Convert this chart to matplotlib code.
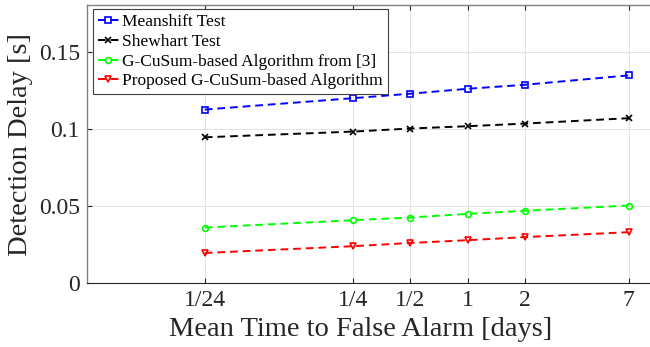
import matplotlib
matplotlib.use('Agg')
import matplotlib.pyplot as plt
from matplotlib.ticker import FixedLocator, NullLocator
import numpy as np

# mean time to false alarm, in days
mtfa_days = [1 / 24, 1 / 4, 1 / 2, 1, 2, 7]
mtfa_labels = ['1/24', '1/4', '1/2', '1', '2', '7']

# detection delay [s] for each detector
delay_meanshift = [0.1124, 0.1198, 0.1227, 0.1259, 0.1285, 0.1346]
delay_shewhart = [0.0944, 0.0981, 0.1001, 0.1016, 0.1033, 0.1068]
delay_gcusum_ref = [0.0358, 0.0406, 0.0423, 0.0447, 0.0467, 0.0501]
delay_gcusum_new = [0.0193, 0.0237, 0.0258, 0.0276, 0.0296, 0.0328]

y_ticks = [0, 0.05, 0.1, 0.15]
y_tick_labels = ['0', '0.05', '0.1', '0.15']

plt.rcParams['font.family'] = 'Liberation Serif'
plt.rcParams['mathtext.fontset'] = 'stix'

fig = plt.figure(figsize=(6.5, 3.47), dpi=100)
ax = fig.add_axes([0.1334, 0.1853, 0.879, 0.799])

series = [
    (delay_meanshift, 'b', 's', 'Meanshift Test'),
    (delay_shewhart, 'k', 'x', 'Shewhart Test'),
    (delay_gcusum_ref, (0, 1, 0), 'o', 'G-CuSum-based Algorithm from [3]'),
    (delay_gcusum_new, 'r', 'v', 'Proposed G-CuSum-based Algorithm'),
]
for vals, col, mk, lab in series:
    ax.plot(mtfa_days, vals, color=col, linestyle='--', dashes=(4, 2.5),
            linewidth=1.4, marker=mk, markersize=4.2, markeredgewidth=1.2,
            markerfacecolor='none', markeredgecolor=col, label=lab)

ax.set_xscale('log')
ax.set_xlim(0.01, 10)
ax.set_ylim(0, 0.18)
ax.xaxis.set_major_locator(FixedLocator(mtfa_days))
ax.xaxis.set_minor_locator(NullLocator())
ax.set_xticklabels(mtfa_labels)
ax.set_yticks(y_ticks)
ax.set_yticklabels(y_tick_labels)

ax.grid(True, color='#e3e3e3', linewidth=0.8)
ax.set_axisbelow(True)
ax.tick_params(direction='in', length=3.5, width=0.8, colors='#262626',
               labelsize=17, top=True, right=True, pad=5)
for side in ['left', 'top']:
    ax.spines[side].set_color('#808080')
    ax.spines[side].set_linewidth(1.0)
for side in ['bottom', 'right']:
    ax.spines[side].set_color('#262626')
    ax.spines[side].set_linewidth(0.8)

ax.set_xlabel('Mean Time to False Alarm [days]', fontsize=20.5,
              color='#262626', labelpad=5)
ax.xaxis.set_label_coords(0.479, -0.125)
ax.xaxis.label.set_va('top')
ax.set_ylabel('Detection Delay [s]', fontsize=20.5, color='#262626',
              labelpad=4)

leg = ax.legend(loc='upper left', bbox_to_anchor=(0.0105, 0.987),
                borderaxespad=0, fontsize=12.5, fancybox=False,
                framealpha=1, edgecolor='#404040', handlelength=1.2,
                handletextpad=0.2, labelspacing=0.2, borderpad=0.3)
leg.get_frame().set_linewidth(0.8)

fig.savefig('out.png', dpi=100)
